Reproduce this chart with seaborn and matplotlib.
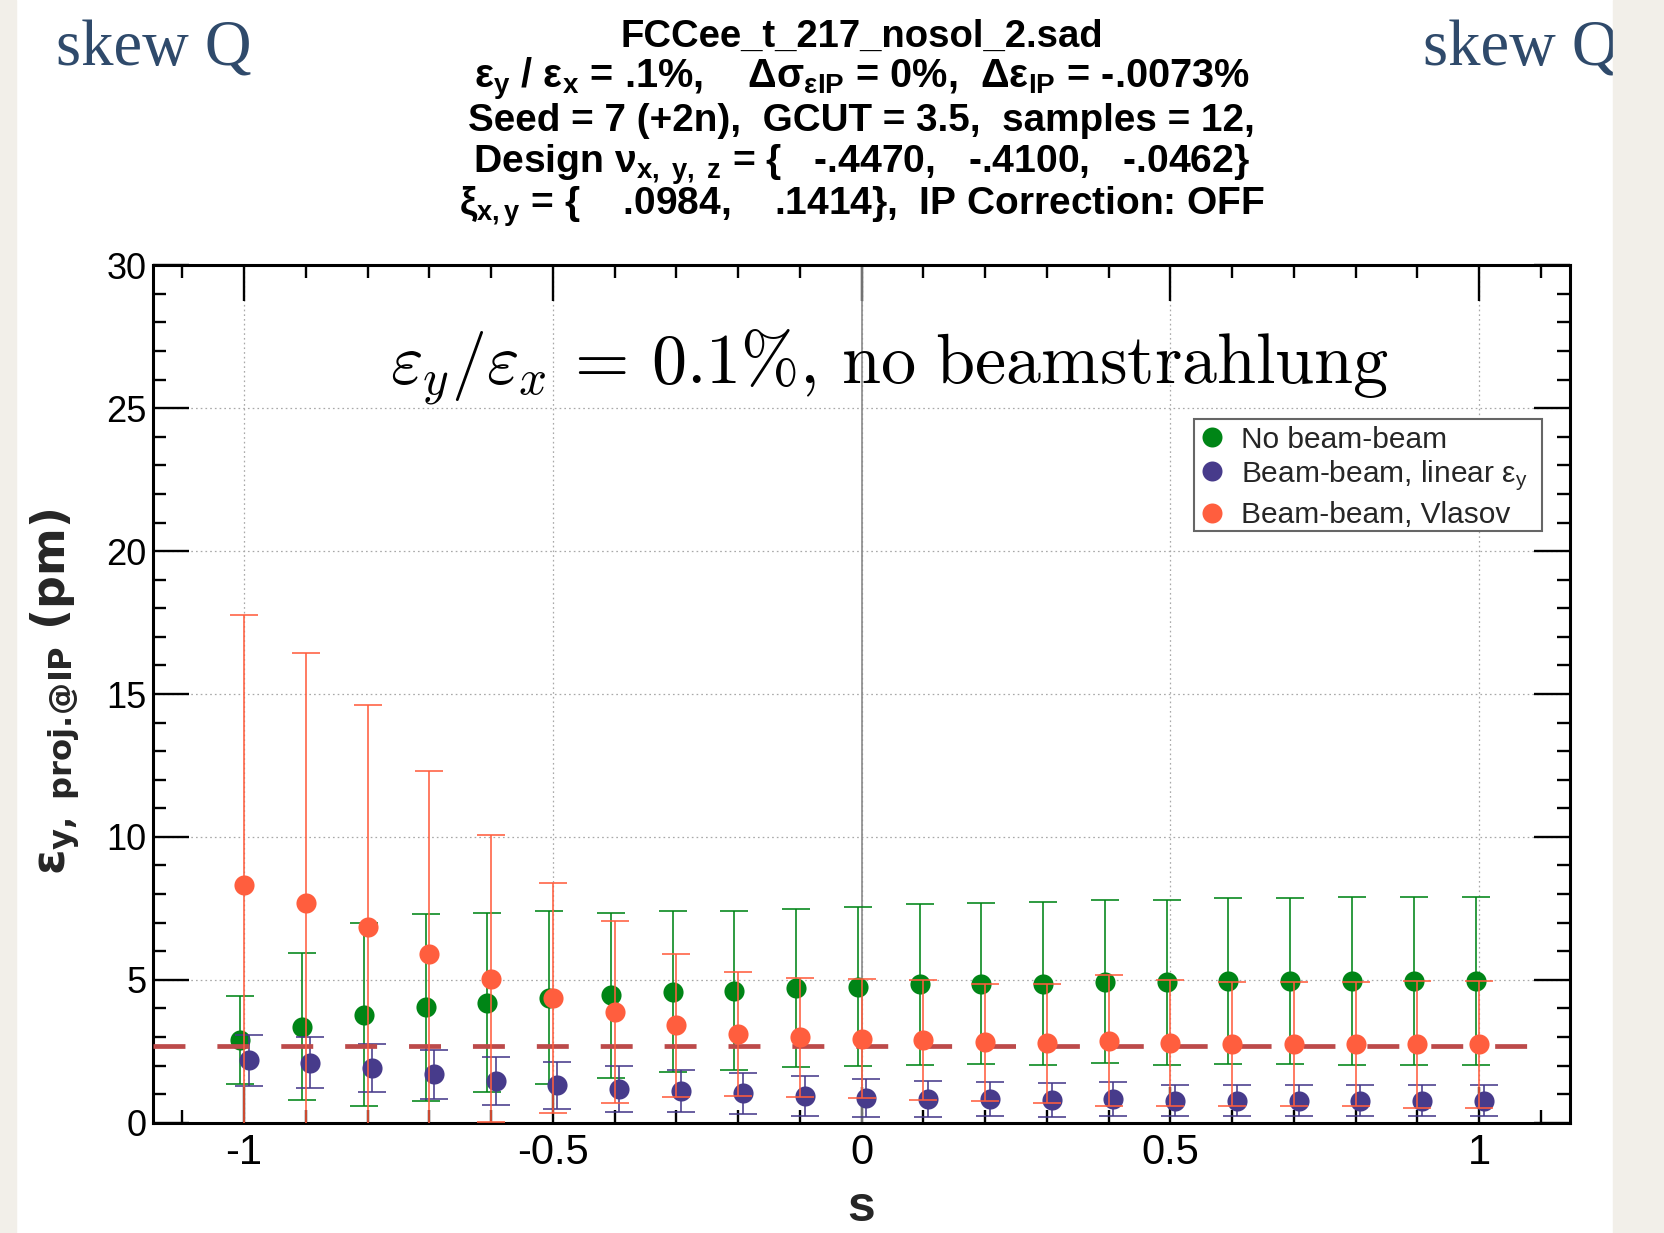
import numpy as np
import pandas as pd
import matplotlib
matplotlib.use("Agg")
import matplotlib.pyplot as plt
import seaborn as sns
from matplotlib.ticker import MultipleLocator, FuncFormatter
from matplotlib.patches import Rectangle
from matplotlib.lines import Line2D

# ---------------- data ----------------
s_values = [-1.0, -0.9, -0.8, -0.7, -0.6, -0.5, -0.4, -0.3, -0.2, -0.1, 0.0,
            0.1, 0.2, 0.3, 0.4, 0.5, 0.6, 0.7, 0.8, 0.9, 1.0]

no_bb = [2.90, 3.36, 3.78, 4.04, 4.20, 4.37, 4.46, 4.58, 4.62, 4.70, 4.76,
         4.84, 4.87, 4.87, 4.93, 4.91, 4.96, 4.96, 4.96, 4.96, 4.96]
no_bb_err = [1.55, 2.57, 3.20, 3.27, 3.14, 3.02, 2.89, 2.81, 2.77, 2.76, 2.77,
             2.81, 2.81, 2.85, 2.85, 2.89, 2.90, 2.90, 2.93, 2.93, 2.93]

bb_linear = [2.18, 2.10, 1.92, 1.69, 1.47, 1.31, 1.18, 1.11, 1.03, 0.93, 0.87,
             0.84, 0.84, 0.79, 0.82, 0.77, 0.77, 0.77, 0.77, 0.77, 0.77]
bb_linear_err = [0.88, 0.89, 0.83, 0.85, 0.84, 0.83, 0.80, 0.75, 0.71, 0.71, 0.67,
                 0.63, 0.60, 0.60, 0.60, 0.55, 0.55, 0.55, 0.55, 0.55, 0.55]

bb_vlasov = [8.31, 7.67, 6.86, 5.89, 5.04, 4.37, 3.87, 3.41, 3.10, 2.99, 2.94,
             2.89, 2.82, 2.78, 2.87, 2.78, 2.74, 2.74, 2.74, 2.74, 2.74]
bb_vlasov_err = [9.44, 8.77, 7.77, 6.40, 5.02, 4.02, 3.18, 2.51, 2.18, 2.08, 2.09,
                 2.10, 2.05, 2.09, 2.30, 2.21, 2.17, 2.17, 2.17, 2.22, 2.22]

reference_level = 2.68

series_labels = ["No beam-beam",
                 r"Beam-beam, linear ε$_\mathrm{y}$",
                 "Beam-beam, Vlasov"]

title_lines = [
    "FCCee_t_217_nosol_2.sad",
    r"ε$_\mathbf{y}$ / ε$_\mathbf{x}$ = .1%,    Δσ$_\mathbf{εIP}$ = 0%,  Δε$_\mathbf{IP}$ = -.0073%",
    "Seed = 7 (+2n),  GCUT = 3.5,  samples = 12,",
    r"Design ν$_\mathbf{x,\ y,\ z}$ = {   -.4470,   -.4100,   -.0462}",
    r"ξ$_\mathbf{x,y}$ = {    .0984,    .1414},  IP Correction: OFF",
]
inset_text = r"$\varepsilon_y/\varepsilon_x\,=\,0.1\%,\,\mathrm{no\ beamstrahlung}$"
corner_text = "skew Q"
y_label = r"ε$_\mathbf{y,\ proj.\!@IP}$ (pm)"
x_label = "s"

# ---------------- style ----------------
sns.set_theme(style="ticks")
plt.rcParams["font.family"] = ["Liberation Sans", "DejaVu Sans"]
plt.rcParams["axes.unicode_minus"] = False
plt.rcParams["lines.scale_dashes"] = False
plt.rcParams["mathtext.fontset"] = "custom"
plt.rcParams["mathtext.rm"] = "Liberation Sans"
plt.rcParams["mathtext.it"] = "Liberation Sans:italic"
plt.rcParams["mathtext.bf"] = "Liberation Sans:bold"
plt.rcParams["mathtext.sf"] = "Liberation Sans"

W, H = 1665, 1233
fig = plt.figure(figsize=(W / 100, H / 100), dpi=100)
fig.patch.set_facecolor("white")

# beige slide borders
beige = "#F2EFE9"
fig.add_artist(Rectangle((0, 0), 16 / W, 1, transform=fig.transFigure,
                         color=beige, zorder=5))
fig.add_artist(Rectangle((1613 / W, 0), 1 - 1613 / W, 1, transform=fig.transFigure,
                         color=beige, zorder=5))

ax_l, ax_r, ax_t, ax_b = 153.3, 1570.0, 265.3, 1122.7
ax = fig.add_axes([ax_l / W, 1 - ax_b / H, (ax_r - ax_l) / W, (ax_b - ax_t) / H])


def axx(px):
    return (px - ax_l) / (ax_r - ax_l)


def axy(py):
    return (ax_b - py) / (ax_b - ax_t)


df = pd.DataFrame({
    "s": s_values,
    "no_bb": no_bb, "no_bb_err": no_bb_err,
    "bb_lin": bb_linear, "bb_lin_err": bb_linear_err,
    "bb_vl": bb_vlasov, "bb_vl_err": bb_vlasov_err,
})

green, purple, orange = "#008516", "#473B8B", "#FF5E3E"
dash_col = "#BC4A4A"
msize = 210  # scatter size (pt^2)

series = [
    ("no_bb", green, -0.006, 2),
    ("bb_lin", purple, 0.0075, 4),
    ("bb_vl", orange, 0.0, 7),
]
for col, c, off, z in series:
    xs = df["s"] + off
    ax.errorbar(xs, df[col], yerr=df[col + "_err"], fmt="none", ecolor=c,
                elinewidth=1.15, capsize=10, capthick=1.15, zorder=z)
    sns.scatterplot(x=xs, y=df[col], color=c, s=msize, linewidth=0, ax=ax,
                    zorder=z + 1, legend=False)

ax.axhline(reference_level, xmin=0, xmax=0.982, color=dash_col, lw=3.4,
           linestyle=(0, (23, 23)), zorder=6, solid_capstyle="butt")
ax.axvline(0, color="#8a8a8a", lw=1.2, zorder=1)

ax.set_xlim(-1.147, 1.147)
ax.set_ylim(0, 30)
ax.set_xlabel("")
ax.set_ylabel("")

ax.xaxis.set_major_locator(MultipleLocator(0.5))
ax.xaxis.set_minor_locator(MultipleLocator(0.1))
ax.yaxis.set_major_locator(MultipleLocator(5))
ax.yaxis.set_minor_locator(MultipleLocator(1))
fmt = FuncFormatter(lambda v, p: "0" if abs(v) < 1e-9 else f"{v:g}")
ax.xaxis.set_major_formatter(fmt)
ax.yaxis.set_major_formatter(fmt)

ax.tick_params(which="both", direction="in", top=True, right=True,
               color="black", width=1.7)
ax.tick_params(which="major", length=26)
ax.tick_params(which="minor", length=9.4)
ax.tick_params(axis="x", labelsize=30, pad=7.4, labelcolor="black")
ax.tick_params(axis="y", labelsize=26, pad=4.8, labelcolor="black")
for sp in ax.spines.values():
    sp.set_visible(True)
    sp.set_linewidth(2.2)
    sp.set_color("black")

ax.grid(True, which="major", color="#a8a8a8", linestyle=(0, (1.2, 2.2)),
        linewidth=0.9, zorder=0)
ax.set_axisbelow(True)

# inset formula text
ax.text(axx(889), axy(384), inset_text,
        transform=ax.transAxes, ha="center", va="baseline", fontsize=50.5,
        math_fontfamily="cm", color="black", zorder=9)

# legend: a frame plus two frameless legends (uneven row spacing as in the original)
handles = [Line2D([], [], linestyle="none", marker="o", markersize=14.4,
                  markerfacecolor=c, markeredgewidth=0) for c in (green, purple, orange)]
frame = Rectangle((axx(1194), axy(531)), axx(1541.7) - axx(1194), axy(419) - axy(531),
                  transform=ax.transAxes, facecolor="white", edgecolor="#666666",
                  linewidth=1.5, zorder=9.5)
ax.add_patch(frame)
leg_kw = dict(borderaxespad=0, fontsize=21.5, frameon=False,
              handlelength=0.75, handletextpad=0.6, borderpad=0.22)
leg1 = ax.legend(handles[:2], series_labels[:2], loc="upper left",
                 bbox_to_anchor=(axx(1194), axy(419)), labelspacing=0.15, **leg_kw)
leg1.set_zorder(10)
ax.add_artist(leg1)
leg2 = ax.legend(handles[2:], series_labels[2:], loc="center left",
                 bbox_to_anchor=(axx(1194), axy(515.3)), **leg_kw)
leg2.set_zorder(10)

# axis labels
fig.text(55 / W, 1 - 692 / H, y_label, rotation=90, ha="center", va="center",
         fontsize=33, fontweight="bold", family="DejaVu Sans",
         math_fontfamily="dejavusans")
fig.text(861 / W, 1 - 1221 / H, x_label, ha="center", va="baseline",
         fontsize=36, fontweight="bold")

# title block
baselines = [46.7, 88.5, 130.7, 173.0, 215.0]
title_sizes = [27.5, 28.6, 27.8, 28.2, 28.0]
for line, b, fs in zip(title_lines, baselines, title_sizes):
    fig.text(861.6 / W, 1 - b / H, line, ha="center", va="baseline",
             fontsize=fs, fontweight="bold", color="black")

# slide corner labels
fig.text(56 / W, 1 - 65 / H, corner_text, ha="left", va="baseline",
         fontsize=46.5, family="Liberation Serif", color="#2F4A6B", zorder=1)
fig.text(1422.7 / W, 1 - 65 / H, corner_text, ha="left", va="baseline",
         fontsize=46.5, family="Liberation Serif", color="#2F4A6B", zorder=1)

fig.savefig("out.png", dpi=100)
